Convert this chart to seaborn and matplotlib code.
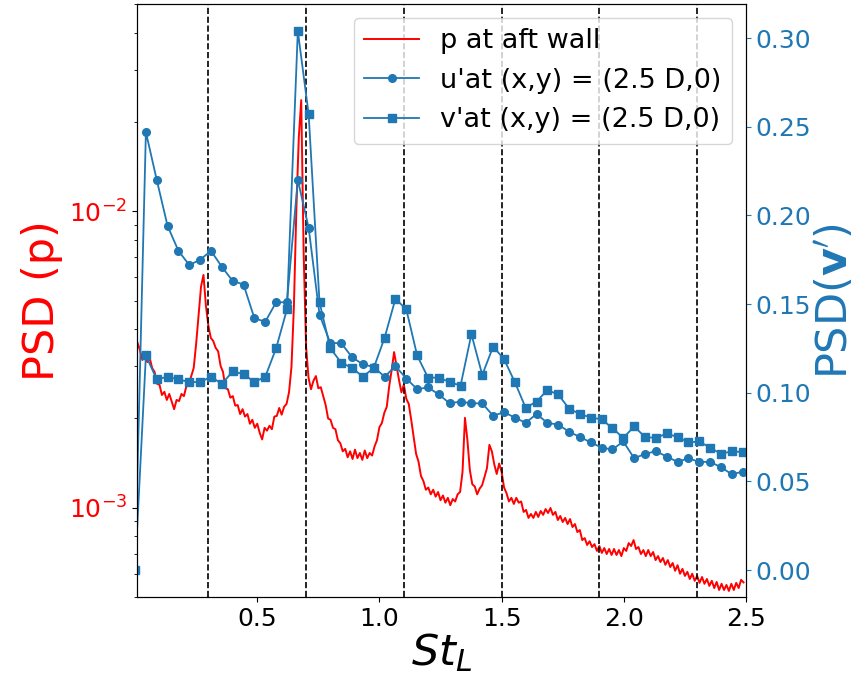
import numpy as np
import matplotlib
matplotlib.use("Agg")
import matplotlib.pyplot as plt
import seaborn as sns

# Wall-pressure spectrum at the aft wall (units of 1e-3), sampled every 0.01 in St_L
psd_p_milli = [
    3.60, 3.40, 3.15, 3.27, 3.10, 3.20, 2.96, 2.87, 2.62, 2.60,
    2.40, 2.46, 2.31, 2.42, 2.28, 2.15, 2.31, 2.29, 2.42, 2.38,
    2.57, 2.62, 2.78, 2.96, 3.57, 4.44, 5.57, 6.10, 4.80, 4.11,
    3.74, 3.65, 3.46, 3.37, 3.01, 2.87, 2.53, 2.51, 2.35, 2.38,
    2.21, 2.22, 2.07, 2.15, 2.03, 2.07, 1.92, 1.98, 1.86, 1.92,
    1.79, 1.70, 1.86, 1.82, 1.89, 1.84, 2.03, 2.04, 2.17, 2.06,
    2.19, 2.24, 2.45, 2.98, 4.76, 10.1, 17.7, 23.7, 7.20, 3.48,
    2.74, 2.51, 2.68, 2.78, 2.53, 2.55, 2.38, 2.22, 2.00, 1.98,
    1.86, 1.84, 1.69, 1.65, 1.55, 1.58, 1.48, 1.55, 1.46, 1.57,
    1.47, 1.53, 1.45, 1.56, 1.47, 1.53, 1.50, 1.61, 1.69, 1.87,
    1.93, 2.09, 2.19, 2.57, 2.91, 3.35, 3.01, 2.70, 2.45, 2.60,
    2.33, 2.24, 1.98, 1.73, 1.52, 1.43, 1.28, 1.23, 1.15, 1.17,
    1.11, 1.15, 1.09, 1.13, 1.06, 1.10, 1.04, 1.08, 1.02, 1.07,
    1.05, 1.11, 1.13, 1.32, 2.01, 1.69, 1.34, 1.20, 1.18, 1.11,
    1.16, 1.19, 1.27, 1.36, 1.63, 1.55, 1.40, 1.30, 1.41, 1.32,
    1.17, 1.12, 1.05, 1.08, 1.03, 1.08, 1.04, 1.05, 0.968, 0.983,
    0.924, 0.953, 0.924, 0.968, 0.931, 0.975, 0.946, 0.990, 0.960, 0.998,
    0.946, 0.968, 0.909, 0.938, 0.895, 0.924, 0.881, 0.916, 0.861, 0.881,
    0.828, 0.841, 0.778, 0.790, 0.749, 0.771, 0.737, 0.754, 0.715, 0.743,
    0.704, 0.731, 0.698, 0.726, 0.693, 0.726, 0.693, 0.720, 0.687, 0.731,
    0.715, 0.760, 0.743, 0.778, 0.726, 0.737, 0.698, 0.720, 0.687, 0.720,
    0.687, 0.709, 0.666, 0.687, 0.656, 0.677, 0.642, 0.666, 0.631, 0.651,
    0.613, 0.640, 0.599, 0.622, 0.589, 0.608, 0.575, 0.599, 0.567, 0.589,
    0.558, 0.584, 0.554, 0.575, 0.545, 0.567, 0.536, 0.562, 0.528, 0.554,
    0.528, 0.549, 0.524, 0.554, 0.528, 0.558, 0.536, 0.571, 0.560,
]
psd_p = np.array(psd_p_milli) * 1e-3
st_p = np.round(np.arange(1, len(psd_p) + 1) * 0.01, 2)

# Velocity spectra at the probe (x, y) = (2.5 D, 0), bin width 0.0444 in St_L
psd_u = [
    0.0, 0.247, 0.220, 0.194, 0.180, 0.172, 0.175, 0.180, 0.171, 0.163,
    0.161, 0.142, 0.140, 0.151, 0.151, 0.220, 0.193, 0.144, 0.128, 0.128,
    0.120, 0.116, 0.1145, 0.109, 0.115, 0.108, 0.102, 0.103, 0.099, 0.094,
    0.095, 0.094, 0.094, 0.087, 0.089, 0.086, 0.083, 0.088, 0.083, 0.082,
    0.078, 0.075, 0.072, 0.069, 0.068, 0.0725, 0.063, 0.0655, 0.067, 0.064,
    0.061, 0.063, 0.061, 0.061, 0.058, 0.054, 0.0555,
]
psd_v = [
    0.0, 0.121, 0.1075, 0.109, 0.1075, 0.106, 0.106, 0.109, 0.105, 0.112,
    0.1105, 0.106, 0.109, 0.125, 0.147, 0.304, 0.257, 0.151, 0.125, 0.117,
    0.114, 0.109, 0.114, 0.131, 0.153, 0.147, 0.121, 0.1085, 0.1085, 0.106,
    0.104, 0.133, 0.110, 0.126, 0.119, 0.106, 0.0915, 0.095, 0.1015, 0.099,
    0.091, 0.088, 0.086, 0.085, 0.080, 0.0745, 0.081, 0.075, 0.0745, 0.077,
    0.075, 0.072, 0.0725, 0.069, 0.0655, 0.067, 0.0665,
]
st_uv = np.round(np.arange(len(psd_u)) * 0.0444, 4)

# Rossiter mode frequencies
rossiter_st = [0.3, 0.7, 1.1, 1.5, 1.9, 2.3]

labels = ["p at aft wall", "u'at (x,y) = (2.5 D,0)", "v'at (x,y) = (2.5 D,0)"]

BLUE = "#1f77b4"
RED = "red"
LABEL_SIZE = 31

fig = plt.figure(figsize=(8.57, 6.75), dpi=100)
ax1 = fig.add_axes([137 / 857, 78 / 675, 609 / 857, 593 / 675])
ax1.set_yscale("log")

sns.lineplot(x=st_p, y=psd_p, ax=ax1, color=RED, linewidth=1.4,
             label=labels[0], legend=False)
for st in rossiter_st:
    ax1.axvline(st, color="k", linestyle="--", linewidth=1.2)

ax1.set_xlim(0.008, 2.5)
ax1.set_ylim(5e-4, 5e-2)
ax1.set_xlabel(r"$St_L$", fontsize=LABEL_SIZE, labelpad=0)
ax1.set_ylabel("PSD (p)", fontsize=LABEL_SIZE, color=RED)
ax1.tick_params(axis="x", labelsize=18)
ax1.tick_params(axis="y", which="both", labelsize=18, labelcolor=RED)

ax2 = ax1.twinx()
sns.lineplot(x=st_uv, y=psd_u, ax=ax2, color=BLUE, linewidth=1.3,
             marker="o", markersize=5.5, markeredgecolor=BLUE,
             markeredgewidth=1, label=labels[1], legend=False)
sns.lineplot(x=st_uv, y=psd_v, ax=ax2, color=BLUE, linewidth=1.3,
             marker="s", markersize=5.5, markeredgecolor=BLUE,
             markeredgewidth=1, label=labels[2], legend=False)
ax2.set_xlim(0.008, 2.5)
ax2.set_ylabel(r"PSD($\mathbf{v'}$)", fontsize=LABEL_SIZE, color=BLUE,
               labelpad=2)
ax2.tick_params(axis="y", labelsize=18, colors=BLUE)

handles = ax1.get_lines()[:1] + ax2.get_lines()[:2]
ax2.legend(handles, labels, loc="upper right", fontsize=19.5)

fig.savefig("out.png", dpi=100)
